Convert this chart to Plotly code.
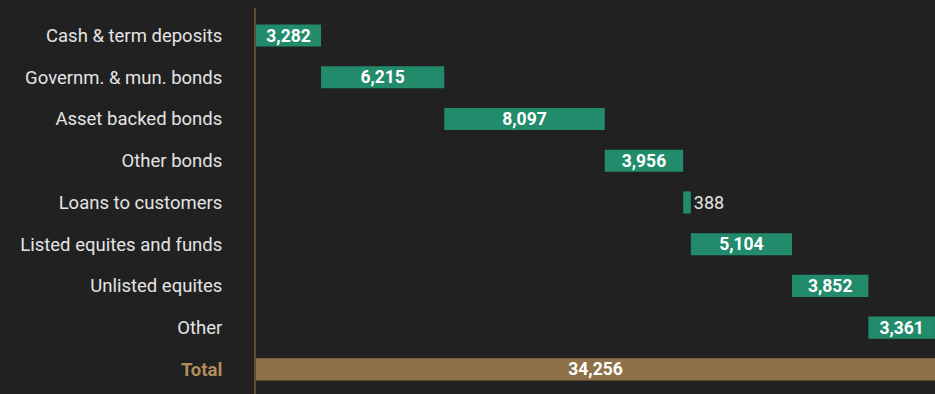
import numpy as np
import plotly.graph_objects as go

# Investment portfolio breakdown (waterfall style)
categories = [
    "Cash & term deposits",
    "Governm. & mun. bonds",
    "Asset backed bonds",
    "Other bonds",
    "Loans to customers",
    "Listed equites and funds",
    "Unlisted equites",
    "Other",
]
values = [3282, 6215, 8097, 3956, 388, 5104, 3852, 3361]
total_label = "Total"
total_value = 34256

BG = "#212121"
GREEN = "#228b6b"
GOLD = "#8e7149"
AXIS = "#5e4b35"
LABEL = "#e4e4e4"
TOTAL_TXT = "#b38e58"

vals = np.array(values)
bases = np.concatenate([[0], np.cumsum(vals)[:-1]])

# put the value outside when the bar is too narrow to hold it
text_pos = ["inside" if v > 1000 else "outside" for v in values]

fig = go.Figure()
fig.add_trace(go.Bar(
    orientation="h",
    y=categories,
    x=values,
    base=bases,
    marker=dict(color=GREEN, line=dict(width=0)),
    text=[f"{v:,}" for v in values],
    textposition=text_pos,
    insidetextanchor="middle",
    insidetextfont=dict(color="#ffffff", size=17.5, family="Roboto", weight="bold"),
    outsidetextfont=dict(color=LABEL, size=18, family="Roboto"),
    constraintext="none",
    cliponaxis=False,
    width=0.53,
    hoverinfo="skip",
))
fig.add_trace(go.Bar(
    orientation="h",
    y=[total_label],
    x=[total_value],
    base=[0],
    marker=dict(color=GOLD, line=dict(width=0)),
    text=[f"{total_value:,}"],
    textposition="inside",
    insidetextanchor="middle",
    insidetextfont=dict(color="#ffffff", size=17.5, family="Roboto", weight="bold"),
    constraintext="none",
    width=0.53,
    hoverinfo="skip",
))

all_cats = categories + [total_label]
tick_text = categories + [f"<b><span style='color:{TOTAL_TXT}'>{total_label}</span></b>"]

fig.update_layout(
    width=935,
    height=394,
    margin=dict(l=256, r=0, t=8, b=0),
    paper_bgcolor=BG,
    plot_bgcolor=BG,
    showlegend=False,
    barmode="overlay",
    font=dict(family="Roboto", color=LABEL, size=18),
    xaxis=dict(
        range=[0, total_value],
        visible=False,
        fixedrange=True,
    ),
    yaxis=dict(
        type="category",
        categoryorder="array",
        categoryarray=all_cats,
        tickvals=all_cats,
        ticktext=tick_text,
        range=[8.59, -0.66],
        showgrid=False,
        zeroline=False,
        showline=True,
        linecolor=AXIS,
        linewidth=2,
        ticks="outside",
        ticklen=28,
        tickcolor="rgba(0,0,0,0)",
        tickfont=dict(family="Roboto", size=18.5, color=LABEL),
        fixedrange=True,
    ),
)

fig.write_html("out.html")
